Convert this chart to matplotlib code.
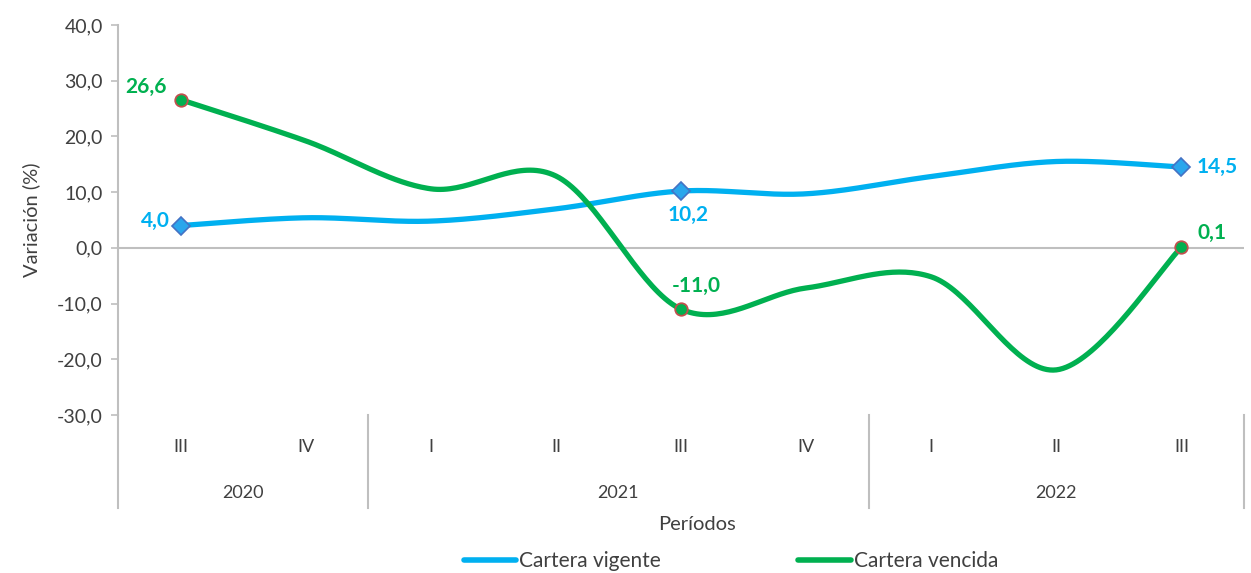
import numpy as np
import matplotlib.pyplot as plt
from matplotlib.lines import Line2D
from matplotlib.ticker import FuncFormatter

trimestres = ["III", "IV", "I", "II", "III", "IV", "I", "II", "III"]
anios = ["2020", "2021", "2022"]
anio_span = [(0, 1), (2, 5), (6, 8)]
vigente = [4.0, 5.4, 4.8, 7.0, 10.2, 9.7, 12.8, 15.5, 14.5]
vencida = [26.6, 19.2, 10.6, 12.9, -11.0, -7.2, -5.2, -21.9, 0.1]

azul = "#00B0F0"
verde = "#00B050"
gris = "#404040"
linea_gris = "#BFBFBF"

plt.rcParams["font.family"] = ["Lato", "DejaVu Sans"]


def suavizar(y, n=40):
    # curva tipo Excel (Catmull-Rom)
    y = np.asarray(y, dtype=float)
    x = np.arange(len(y), dtype=float)
    px = np.concatenate([[x[0]], x, [x[-1]]])
    py = np.concatenate([[y[0]], y, [y[-1]]])
    xs, ys = [], []
    for i in range(1, len(px) - 2):
        p0, p1, p2, p3 = py[i - 1], py[i], py[i + 1], py[i + 2]
        q0, q1, q2, q3 = px[i - 1], px[i], px[i + 1], px[i + 2]
        c1y, c2y = p1 + (p2 - p0) / 6, p2 - (p3 - p1) / 6
        c1x, c2x = q1 + (q2 - q0) / 6, q2 - (q3 - q1) / 6
        t = np.linspace(0, 1, n)
        b0, b1, b2, b3 = (1 - t) ** 3, 3 * t * (1 - t) ** 2, 3 * t ** 2 * (1 - t), t ** 3
        xs.append(b0 * q1 + b1 * c1x + b2 * c2x + b3 * q2)
        ys.append(b0 * p1 + b1 * c1y + b2 * c2y + b3 * p2)
    return np.concatenate(xs), np.concatenate(ys)


fig = plt.figure(figsize=(12.51, 5.73), dpi=100)
ax = fig.add_axes([118 / 1251, 1 - 415 / 573, 1126 / 1251, 390 / 573])

x = np.arange(len(trimestres))
ax.axhline(0, color=linea_gris, lw=1.5, zorder=1)

sx, sy = suavizar(vigente)
ax.plot(sx, sy, color=azul, lw=3.8, solid_capstyle="round", zorder=3)
sx, sy = suavizar(vencida)
ax.plot(sx, sy, color=verde, lw=3.8, solid_capstyle="round", zorder=3)

marcas = [0, 4, 8]
ax.plot(x[marcas], np.array(vigente)[marcas], "D", ms=9, mfc="#2AA6EC",
        mec="#4472C4", mew=1.2, ls="none", zorder=4)
ax.plot(x[marcas], np.array(vencida)[marcas], "o", ms=9, mfc=verde,
        mec="#C0504D", mew=1.3, ls="none", zorder=4)

kw = dict(fontsize=15, fontweight="bold")
ax.annotate("4,0", (0, vigente[0]), xytext=(-8, 3), textcoords="offset points",
            ha="right", va="center", color=azul, **kw)
ax.annotate("10,2", (4, vigente[4]), xytext=(5, -17), textcoords="offset points",
            ha="center", va="center", color=azul, **kw)
ax.annotate("14,5", (8, vigente[8]), xytext=(11, 0), textcoords="offset points",
            ha="left", va="center", color=azul, **kw)
ax.annotate("26,6", (0, vencida[0]), xytext=(-10, 9), textcoords="offset points",
            ha="right", va="center", color=verde, **kw)
ax.annotate("-11,0", (4, vencida[4]), xytext=(11, 17), textcoords="offset points",
            ha="center", va="center", color=verde, **kw)
ax.annotate("0,1", (8, vencida[8]), xytext=(22, 10), textcoords="offset points",
            ha="center", va="center", color=verde, **kw)

ax.set_xlim(-0.5, len(trimestres) - 0.5)
ax.set_ylim(-30, 40)
ax.set_yticks(np.arange(-30, 41, 10))
ax.yaxis.set_major_formatter(FuncFormatter(lambda v, p: f"{v:.1f}".replace(".", ",")))
ax.tick_params(axis="y", colors=linea_gris, labelcolor=gris, labelsize=14,
               length=5, width=1.2, pad=6)
ax.set_xticks([])
for s in ["top", "right", "bottom"]:
    ax.spines[s].set_visible(False)
ax.spines["left"].set_color(linea_gris)
ax.spines["left"].set_linewidth(1.5)
ax.set_ylabel("Variación (%)", fontsize=14.5, color=gris, labelpad=12)

# eje de categorias de dos niveles
tr = ax.get_xaxis_transform()
for i, t in enumerate(trimestres):
    ax.text(i, -0.082, t, transform=tr, ha="center", va="center",
            fontsize=13, color=gris)
for nombre, (a, b) in zip(anios, anio_span):
    ax.text((a + b) / 2, -0.2, nombre, transform=tr, ha="center", va="center",
            fontsize=13, color=gris)
for b in [-0.5] + [s[1] + 0.5 for s in anio_span]:
    ax.add_line(Line2D([b, b], [0, -0.238], transform=tr, color=linea_gris,
                       lw=1.5, clip_on=False))

fig.text(697 / 1251, 1 - 525 / 573, "Períodos", ha="center", va="center",
         fontsize=14.5, color=gris)

handles = [Line2D([], [], color=azul, lw=4, solid_capstyle="round"),
           Line2D([], [], color=verde, lw=4, solid_capstyle="round")]
fig.legend(handles, ["Cartera vigente", "Cartera vencida"], loc="center",
           bbox_to_anchor=(731 / 1251, 1 - 561 / 573), ncol=2, frameon=False,
           fontsize=15, labelcolor=gris, handlelength=2.5, handletextpad=0.15,
           columnspacing=6.6, borderpad=0)

fig.savefig("out.png", dpi=100)
